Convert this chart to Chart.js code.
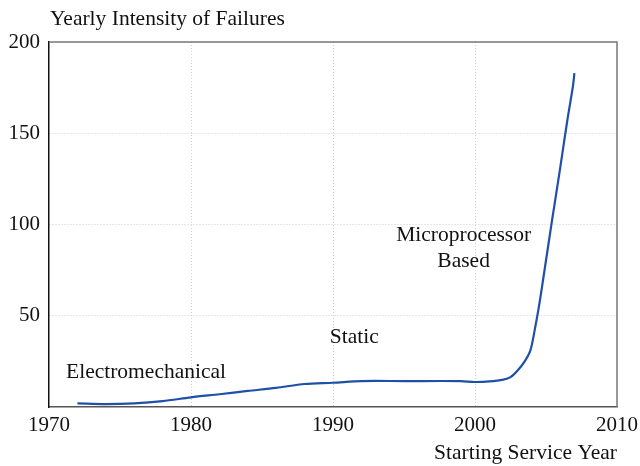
<!DOCTYPE html>
<html lang="en">
    <head>
        <meta charset="UTF-8" />
        <title>Yearly Intensity of Failures</title>
        <script src="https://cdn.jsdelivr.net/npm/chart.js"></script>
        <style>
            html, body { margin: 0; padding: 0; background: #fff; }
            #wrap { width: 640px; height: 466px; }
        </style>
    </head>
    <body>
        <div id="wrap"><canvas id="failChart"></canvas></div>
        <script>
            const years = [1972, 1974, 1976, 1978, 1980, 1982, 1984, 1986, 1988, 1990, 1992, 1995, 1999,
                2000, 2001, 2002, 2002.5, 2003, 2003.5, 2003.9, 2004.2, 2004.5, 2004.8, 2005.4, 2006, 2006.5, 2006.9, 2007];
            const failures = [2, 1.6, 2, 3.2, 5.3, 7, 8.8, 10.5, 12.6, 13.3, 14.2, 14.2, 14.2,
                13.7, 14, 15, 16.4, 20, 25, 31, 42, 55, 70, 101, 131, 157, 176, 183];
            const xTicks = [1970, 1980, 1990, 2000, 2010];
            const yTicks = [50, 100, 150, 200];
            // era labels: [text lines, year, value, align]
            const eraLabels = [
                [["Electromechanical"], 1971.2, 19, "left"],
                [["Static"], 1991.5, 38, "center"],
                [["Microprocessor", "Based"], 1999.2, 94, "center"],
            ];

            const serif = "'Liberation Serif', 'Times New Roman', serif";

            const extras = {
                id: "extras",
                afterDraw(chart) {
                    const { ctx, chartArea: a, scales } = chart;
                    ctx.save();
                    // top and right frame
                    ctx.strokeStyle = "#777";
                    ctx.lineWidth = 1.5;
                    ctx.beginPath();
                    ctx.moveTo(a.left, a.top);
                    ctx.lineTo(a.right, a.top);
                    ctx.lineTo(a.right, a.bottom);
                    ctx.stroke();

                    ctx.fillStyle = "#111";
                    ctx.font = "21.5px " + serif;
                    ctx.textBaseline = "middle";
                    ctx.textAlign = "left";
                    ctx.fillText("Yearly Intensity of Failures", 50, 19);

                    eraLabels.forEach(([lines, yr, val, align]) => {
                        const x = scales.x.getPixelForValue(yr);
                        const y = scales.y.getPixelForValue(val);
                        ctx.textAlign = align;
                        lines.forEach((t, i) => ctx.fillText(t, x, y + i * 26));
                    });
                    ctx.restore();
                },
            };

            const ctx = document.getElementById("failChart").getContext("2d");
            new Chart(ctx, {
                type: "line",
                data: {
                    datasets: [
                        {
                            data: years.map((y, i) => ({ x: y, y: failures[i] })),
                            borderColor: "#1f50a8",
                            borderWidth: 2.2,
                            pointRadius: 0,
                            fill: false,
                            tension: 0.3,
                        },
                    ],
                },
                options: {
                    responsive: true,
                    maintainAspectRatio: false,
                    animation: false,
                    layout: { padding: { top: 42, right: 23, left: 0, bottom: 0 } },
                    plugins: { legend: { display: false }, tooltip: { enabled: false } },
                    scales: {
                        x: {
                            type: "linear",
                            min: 1970,
                            max: 2010,
                            afterBuildTicks: (s) => { s.ticks = xTicks.map((v) => ({ value: v })); },
                            afterFit: (s) => { s.height = 59; s.paddingLeft = 0; s.paddingRight = 0; },
                            ticks: {
                                font: { family: serif, size: 21 },
                                color: "#111",
                                padding: 6,
                                maxRotation: 0,
                                callback: (v) => String(v),
                            },
                            grid: {
                                color: (c) => (c.tick && (c.tick.value === 1970 || c.tick.value === 2010) ? "rgba(0,0,0,0)" : "#cfcfcf"),
                                lineWidth: 1,
                                drawTicks: false,
                            },
                            border: { color: "#555", width: 1.5, dash: [1, 2] },
                            title: {
                                display: true,
                                text: "Starting Service Year",
                                align: "end",
                                font: { family: serif, size: 21.5 },
                                color: "#111",
                                padding: { top: 4, bottom: 0 },
                            },
                        },
                        y: {
                            min: 0,
                            max: 200,
                            afterBuildTicks: (s) => { s.ticks = [0].concat(yTicks).map((v) => ({ value: v })); },
                            afterFit: (s) => { s.width = 49; },
                            ticks: {
                                font: { family: serif, size: 21 },
                                color: "#111",
                                padding: 9,
                                callback: (v) => (v === 0 ? "" : String(v)),
                            },
                            grid: {
                                color: (c) => (c.tick && (c.tick.value === 0 || c.tick.value === 200) ? "rgba(0,0,0,0)" : "#cfcfcf"),
                                lineWidth: 1,
                                drawTicks: false,
                            },
                            border: { color: "#111", width: 1.5, dash: [1, 2] },
                        },
                    },
                },
                plugins: [extras],
            });
        </script>
    </body>
</html>
